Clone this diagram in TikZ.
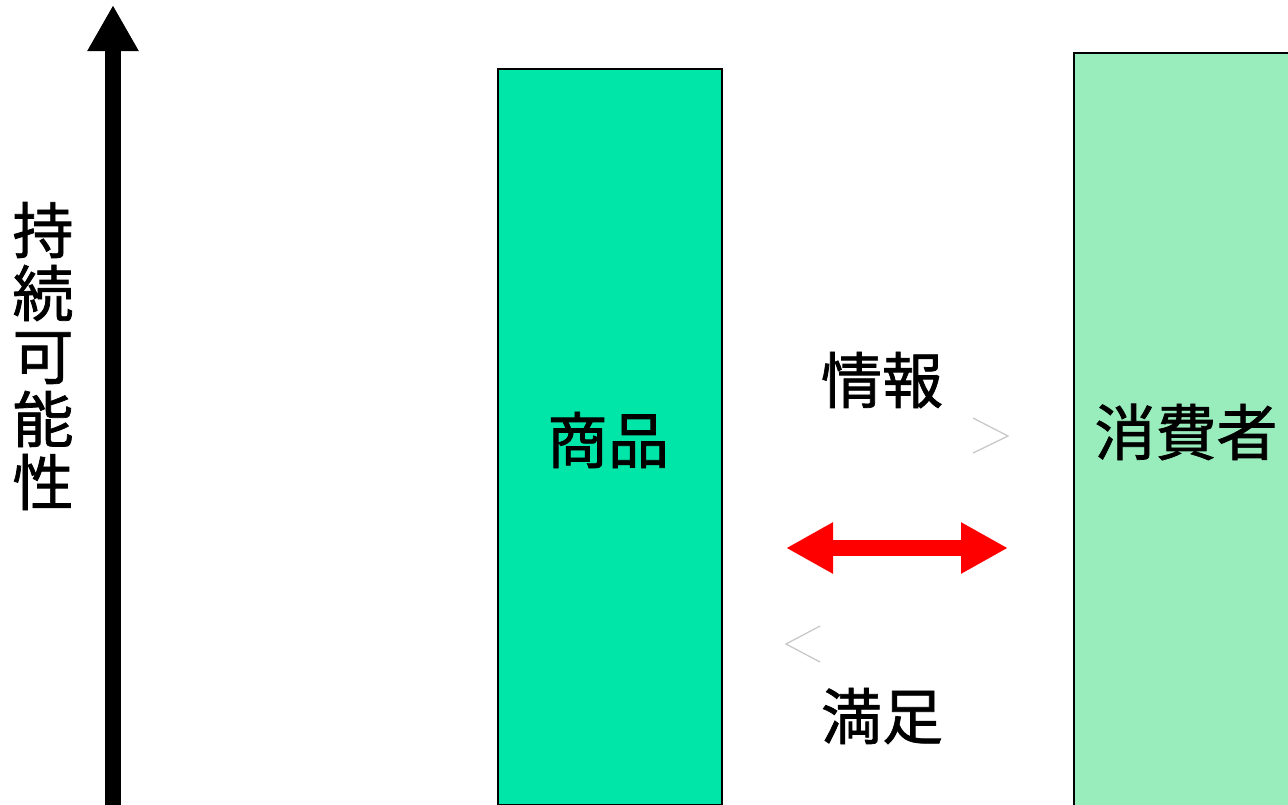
\documentclass[tikz,border=0pt]{standalone}
\usepackage{fontspec}
\newfontfamily\cjk{Noto Sans CJK JP}[FakeBold=1.2]
\usetikzlibrary{arrows.meta}
\definecolor{prodgreen}{RGB}{0,229,168}
\definecolor{consgreen}{RGB}{153,236,187}
\definecolor{chev}{RGB}{200,200,200}
\tikzset{
  lbl/.style={font=\cjk\fontsize{61}{63}\selectfont, inner sep=0pt, align=center},
  bar/.style={draw=black, line width=2pt},
  chevron/.style={draw=chev, line width=1.3pt},
}
\begin{document}
\begin{tikzpicture}[x=1pt,y=-1pt]
\useasboundingbox (0,0) rectangle (1288,804);
% boxes
\node[bar, fill=prodgreen, minimum width=224pt, minimum height=736pt, anchor=north west, inner sep=0pt] (prod) at (497,68) {};
\node[bar, fill=consgreen, minimum width=230pt, minimum height=760pt, anchor=north west, inner sep=0pt] (cons) at (1073,52) {};
\node[lbl] (prodlbl) at (608,440) {商品};
\node[lbl] (conslbl) at (1186,432) {消費者};
% vertical axis
\coordinate (axb) at (113,806);
\coordinate (axt) at (113,5);
\draw[line width=16pt, -{Triangle[width=48pt,length=46pt]}] (axb) -- (axt);
\node[lbl] (axlbl) at (43,356) {持\\続\\可\\能\\性};
% labels
\node[lbl] (info) at (882,380) {情報};
\node[lbl] (sat) at (882,716) {満足};
% red double arrow
\coordinate (ra) at (786,548);
\coordinate (rb) at (1008,548);
\draw[red, line width=16pt, {Triangle[width=48pt,length=47pt]}-{Triangle[width=48pt,length=47pt]}] (ra) -- (rb);
% faint chevrons
\coordinate (c1) at (1008,436);
\draw[chevron] (973,418) -- (c1) -- (973,453);
\coordinate (c2) at (786,644);
\draw[chevron] (820,626) -- (c2) -- (820,662);
\end{tikzpicture}
\end{document}
